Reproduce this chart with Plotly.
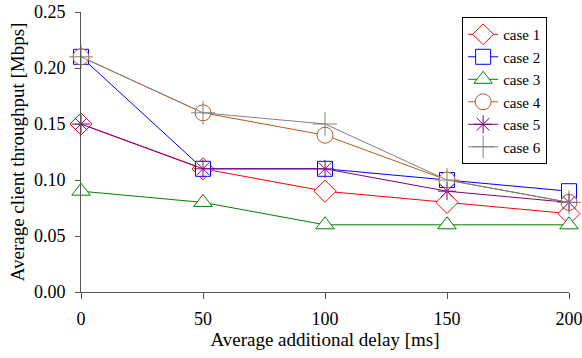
import plotly.graph_objects as go

delay = [0, 50, 100, 150, 200]
case1 = [0.15, 0.11, 0.09, 0.08, 0.07]
case2 = [0.21, 0.11, 0.11, 0.10, 0.09]
case3 = [0.09, 0.08, 0.06, 0.06, 0.06]
case4 = [0.21, 0.16, 0.14, 0.10, 0.08]
case5 = [0.15, 0.11, 0.11, 0.09, 0.08]
case6 = [0.21, 0.16, 0.15, 0.10, 0.08]

series = [
    ("case 1", case1, "#ff0000", "diamond", 17, "white"),
    ("case 2", case2, "#0000ff", "square", 15, "white"),
    ("case 3", case3, "#008000", "triangle-up", 16, "white"),
    ("case 4", case4, "#b85a1e", "circle", 16, "white"),
    ("case 5", case5, "#800080", "asterisk-open", 15, "#800080"),
    ("case 6", case6, "#808080", "cross-thin-open", 17, "#808080"),
]

FONT = "Liberation Serif"

fig = go.Figure()
for name, vals, col, sym, sz, fill in series:
    fig.add_trace(go.Scatter(
        x=delay, y=vals, name=name, mode="lines+markers",
        line=dict(color=col, width=1),
        marker=dict(symbol=sym, size=sz, color=fill,
                    line=dict(color=col, width=1)),
        cliponaxis=False,
    ))

fig.update_layout(
    width=582, height=358,
    margin=dict(l=81, r=13, t=12, b=66),
    paper_bgcolor="white", plot_bgcolor="white",
    font=dict(family=FONT, size=18, color="black"),
    showlegend=True,
    legend=dict(x=0.781, y=0.982, xanchor="left", yanchor="top",
                bordercolor="black", borderwidth=1, bgcolor="white",
                font=dict(family=FONT, size=15), tracegroupgap=0,
                itemwidth=30),
    xaxis=dict(range=[0, 200], tickvals=delay, ticks="outside", ticklen=6,
               ticklabelstandoff=4, ticklabeloverflow="allow",
               showgrid=False, zeroline=False, showline=True, automargin=False,
               linecolor="#555555", tickcolor="#555555",
               tickfont=dict(family=FONT, size=18),
               title=dict(text="Average additional delay [ms]", standoff=4,
                          font=dict(family=FONT, size=19))),
    yaxis=dict(range=[0, 0.25], dtick=0.05, tickformat=".2f",
               ticks="outside", ticklen=5, ticklabelstandoff=6,
               ticklabeloverflow="allow", automargin=False,
               showgrid=False, zeroline=False, showline=True,
               linecolor="#555555", tickcolor="#555555",
               tickfont=dict(family=FONT, size=18),
               title=dict(text="Average client throughput [Mbps]", standoff=4,
                          font=dict(family=FONT, size=19))),
)

fig.write_html("out.html", config={"displayModeBar": False},
               post_script="document.body.style.margin='0';document.body.style.padding='0';")
